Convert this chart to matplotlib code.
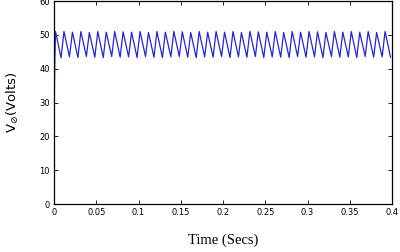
import matplotlib

matplotlib.use("Agg")
import matplotlib.pyplot as plt
import numpy as np

# start-up transient (time s, volts)
startup_t = [0.0, 0.0005, 0.0010, 0.0018]
startup_v = [0.0, 34.0, 43.0, 51.0]

# ripple: one peak and one trough per 10 ms cycle
period = 0.01
rise_frac = 0.35
peak_v = [51.0, 50.8, 51.0, 50.7, 51.0, 50.8, 51.0, 50.9, 50.8, 51.0,
          50.7, 51.0, 50.8, 51.0, 50.9, 50.7, 51.0, 50.8, 51.0, 50.8,
          51.0, 50.7, 51.0, 50.9, 50.8, 51.0, 50.7, 51.0, 50.8, 51.0,
          50.9, 50.7, 51.0, 50.8, 51.0, 50.8, 51.0, 50.7, 51.0, 50.9]
trough_v = [43.2, 43.5, 43.3, 43.6, 43.4, 43.3, 43.6, 43.4, 43.5, 43.3,
            43.6, 43.4, 43.3, 43.5, 43.6, 43.4, 43.3, 43.5, 43.4, 43.6,
            43.3, 43.5, 43.4, 43.6, 43.3, 43.5, 43.4, 43.3, 43.6, 43.4,
            43.5, 43.3, 43.6, 43.4, 43.5, 43.3, 43.6, 43.4, 43.5, 43.4]

x_ticks = [0, 0.05, 0.1, 0.15, 0.2, 0.25, 0.3, 0.35, 0.4]
x_ticklabels = ["0", "0.05", "0.1", "0.15", "0.2", "0.25", "0.3", "0.35", "0.4"]
y_ticks = [0, 10, 20, 30, 40, 50, 60]

t = list(startup_t)
v = list(startup_v)
t0 = startup_t[-1]
for k, (pk, tr) in enumerate(zip(peak_v, trough_v)):
    base = t0 + k * period
    t += [base + (1 - rise_frac) * period, base + period]
    v += [tr, pk]
t = np.array(t)
v = np.array(v)
keep = t <= 0.4
t, v = t[keep], v[keep]

fig = plt.figure(figsize=(4.0, 2.52), dpi=100)
ax = fig.add_axes([0.135, 0.19, 0.845, 0.806])
ax.plot(t, v, color="#2424d8", lw=0.9)
ax.set_xlim(0, 0.4)
ax.set_ylim(0, 60)
ax.set_xticks(x_ticks)
ax.set_xticklabels(x_ticklabels)
ax.set_yticks(y_ticks)
ax.tick_params(direction="in", length=3, width=0.6, labelsize=6, pad=3,
               top=True, right=True)
for s in ax.spines.values():
    s.set_linewidth(0.9)
ax.set_xlabel("Time (Secs)", family="Liberation Serif", fontsize=10.5, labelpad=12)
ax.set_ylabel(r"V$_{\oslash}$(Volts)", fontsize=9.5, labelpad=13)
fig.savefig("out.png", dpi=100)
